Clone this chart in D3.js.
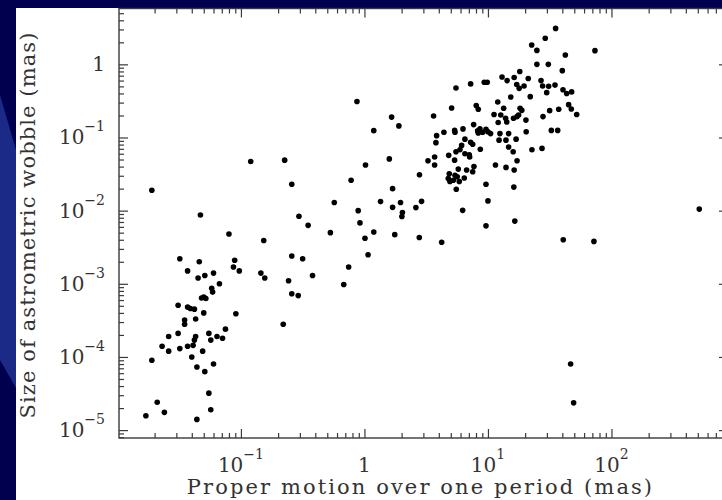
<!DOCTYPE html>
<html>
<head>
<meta charset="utf-8">
<script src="https://cdn.jsdelivr.net/npm/d3@7"></script>
<style>
  html, body { margin: 0; padding: 0; background: #00004e; overflow: hidden; }
  svg { display: block; }
  .tick line, .domain { stroke: #3a3a3a; stroke-width: 1.2; }
  text { font-family: "DejaVu Serif", "Liberation Serif", serif; fill: #333333; }
</style>
</head>
<body>
<div id="chart"></div>
<script>
// proper motion over one period (mas)
let properMotion = [
  0.019, 0.047, 0.080, 0.153, 0.258, 0.032, 0.046, 0.089, 0.087, 0.097,
  0.037, 0.060, 0.045, 0.051, 0.145, 0.156, 0.258, 0.243, 0.067, 0.058,
  0.059, 0.048, 0.050, 0.052, 0.258, 0.291, 0.031, 0.037, 0.039, 0.042,
  0.050, 0.091, 0.035, 0.035, 0.043, 0.220, 0.075, 0.031, 0.026, 0.055,
  0.064, 0.057, 0.071, 0.043, 0.042, 0.023, 0.026, 0.032, 0.037, 0.041,
  0.049, 0.040, 0.019, 0.044, 0.051, 0.060, 0.055, 0.021, 0.057, 0.024,
  0.017, 0.044, 0.295,
  0.87, 1.66, 1.90, 1.19, 0.226, 1.59, 1.02, 2.79, 0.78, 1.69,
  0.57, 1.35, 1.96, 1.69, 2.61, 2.03, 2.01, 0.89, 0.35, 0.92,
  0.53, 1.19, 1.76, 1.01, 2.78, 1.07, 0.316, 0.745, 0.38, 0.68, 0.120,
  35.3, 29.1, 22.6, 24.9, 42.3, 24.9, 30.8, 40.0, 18.1, 13.0,
  14.3, 16.3, 21.2, 9.33, 9.87, 7.24, 5.51, 17.1, 17.9, 19.6,
  26.9, 27.7, 31.0, 34.9, 40.5, 43.4, 47.6, 29.9, 15.3, 22.0,
  12.0, 45.0, 47.3, 52.3, 8.04, 8.35, 5.08, 13.4, 18.2, 18.8,
  31.6, 37.4, 3.63, 11.2, 12.7, 13.9, 14.2, 12.1, 16.1, 17.2,
  17.7, 20.3, 27.9, 7.66, 3.84, 4.40, 5.37, 5.41, 6.28, 8.26,
  8.61, 9.06, 9.64, 10.0, 10.5, 8.35, 12.5, 14.7, 20.4, 32.6,
  36.7, 3.79, 6.51, 6.12, 7.24, 7.52, 12.3, 14.0, 16.9, 5.51,
  5.93, 6.51, 7.06, 7.11, 8.67, 14.7, 16.0, 22.7, 27.4, 3.70,
  3.70, 4.81, 3.27, 5.37, 17.2, 7.70, 6.72, 7.52, 5.75, 11.5,
  14.0, 16.3, 4.86, 5.41, 4.77, 4.92, 5.24, 5.64, 5.86, 6.43,
  5.54, 9.64, 16.2, 10.0, 2.90, 6.24, 9.64, 16.5, 4.22, 40.7,
  73.5, 514, 72.1, 46.7, 49.4
];

// size of astrometric wobble (mas)
let wobbleSize = [
  0.019, 0.0087, 0.0048, 0.0039, 0.023, 0.0022, 0.0020, 0.0021, 0.0017, 0.0015,
  0.0015, 0.0014, 0.0012, 0.0013, 0.0014, 0.0012, 0.0024, 0.0011, 0.0010, 0.00087,
  0.00077, 0.00064, 0.00066, 0.00063, 0.00073, 0.00069, 0.00051, 0.00048, 0.00046, 0.00045,
  0.00040, 0.00039, 0.00032, 0.00028, 0.00033, 0.00028, 0.00024, 0.00021, 0.00019, 0.00021,
  0.00019, 0.00017, 0.00018, 0.00019, 0.00017, 0.00014, 0.00012, 0.00013, 0.00014, 0.000144,
  0.00012, 0.00010, 0.000090, 0.000073, 0.000063, 0.000080, 0.000032, 0.000024, 0.000019, 0.0000175,
  0.0000157, 0.000014, 0.0084,
  0.31, 0.19, 0.144, 0.124, 0.049, 0.051, 0.042, 0.031, 0.026, 0.020,
  0.0129, 0.0133, 0.0129, 0.0111, 0.0110, 0.0094, 0.0083, 0.0100, 0.0063, 0.0068,
  0.0050, 0.0051, 0.0047, 0.0042, 0.0043, 0.0025, 0.0022, 0.0017, 0.0013, 0.00098, 0.047,
  3.10, 2.27, 1.84, 1.55, 1.34, 1.00, 1.00, 0.82, 0.80, 0.67,
  0.60, 0.66, 0.64, 0.57, 0.57, 0.54, 0.475, 0.53, 0.47, 0.505,
  0.60, 0.505, 0.50, 0.52, 0.45, 0.40, 0.42, 0.41, 0.357, 0.362,
  0.305, 0.281, 0.245, 0.206, 0.273, 0.243, 0.253, 0.251, 0.251, 0.235,
  0.233, 0.243, 0.197, 0.206, 0.203, 0.183, 0.163, 0.160, 0.183, 0.193,
  0.203, 0.173, 0.193, 0.150, 0.106, 0.118, 0.125, 0.118, 0.131, 0.123,
  0.131, 0.118, 0.129, 0.120, 0.113, 0.115, 0.113, 0.113, 0.120, 0.125,
  0.125, 0.085, 0.095, 0.078, 0.086, 0.081, 0.092, 0.092, 0.095, 0.064,
  0.068, 0.060, 0.058, 0.054, 0.069, 0.074, 0.064, 0.068, 0.071, 0.054,
  0.042, 0.057, 0.048, 0.049, 0.048, 0.040, 0.036, 0.034, 0.037, 0.042,
  0.039, 0.036, 0.032, 0.0305, 0.0275, 0.025, 0.026, 0.029, 0.025, 0.028,
  0.0196, 0.023, 0.021, 0.0136, 0.0134, 0.0101, 0.0062, 0.0072, 0.0037, 0.0040,
  1.54, 0.0105, 0.0038, 0.000080, 0.0000236
];

let xTickValues = [0.1, 1, 10, 100];
let xTickLabels = [["10", "−1"], ["1", ""], ["10", "1"], ["10", "2"]];
let yTickValues = [1, 0.1, 0.01, 0.001, 0.0001, 0.00001];
let yTickLabels = [["1", ""], ["10", "−1"], ["10", "−2"], ["10", "−3"], ["10", "−4"], ["10", "−5"]];

let svgWidth = 722;
let svgHeight = 500;

// plot frame (right edge runs a little past the window)
let frame = { left: 119, right: 728, top: 8.5, bottom: 438 };

let svg = d3.select("#chart")
  .append("svg")
  .attr("width", svgWidth)
  .attr("height", svgHeight);

// dark slide background with a lighter swoosh on the left strip
svg.append("rect")
  .attr("width", svgWidth)
  .attr("height", svgHeight)
  .attr("fill", "#00004e");
svg.append("polygon")
  .attr("points", "0,95 16,150 16,388 0,360")
  .attr("fill", "#1b2a86");

// white panel holding the figure
svg.append("rect")
  .attr("x", 16)
  .attr("y", 8)
  .attr("width", svgWidth - 16)
  .attr("height", svgHeight - 8)
  .attr("fill", "#ffffff");

let x = d3.scaleLog()
  .domain([0.0103, 878])
  .range([frame.left, frame.right]);

let y = d3.scaleLog()
  .domain([7.8e-6, 5.8])
  .range([frame.bottom, frame.top]);

let xMinor = x.ticks().filter(d => !xTickValues.some(t => Math.abs(t / d - 1) < 1e-6));
let yMinor = y.ticks().filter(d => !yTickValues.some(t => Math.abs(t / d - 1) < 1e-6));

// inward ticks on all four sides
function addAxis(axisFn, scale, values, size, transform) {
  let g = svg.append("g")
    .attr("transform", transform)
    .call(axisFn(scale).tickValues(values).tickSize(-size).tickSizeOuter(0).tickFormat(""));
  g.select(".domain").remove();
  return g;
}

addAxis(d3.axisBottom, x, xMinor, 5, `translate(0, ${frame.bottom})`);
addAxis(d3.axisBottom, x, xTickValues, 9, `translate(0, ${frame.bottom})`);
addAxis(d3.axisTop, x, xMinor, 5, `translate(0, ${frame.top})`);
addAxis(d3.axisTop, x, xTickValues, 9, `translate(0, ${frame.top})`);
addAxis(d3.axisLeft, y, yMinor, 5, `translate(${frame.left}, 0)`);
addAxis(d3.axisLeft, y, yTickValues, 9, `translate(${frame.left}, 0)`);
addAxis(d3.axisRight, y, yMinor, 5, `translate(${frame.right}, 0)`);
addAxis(d3.axisRight, y, yTickValues, 9, `translate(${frame.right}, 0)`);

svg.append("rect")
  .attr("x", frame.left)
  .attr("y", frame.top)
  .attr("width", frame.right - frame.left)
  .attr("height", frame.bottom - frame.top)
  .attr("fill", "none")
  .attr("stroke", "#3a3a3a")
  .attr("stroke-width", 1.4);

// tick labels with superscript exponents
function writeLabel(g, parts) {
  g.append("tspan").text(parts[0]);
  if (parts[1]) {
    g.append("tspan")
      .attr("dy", -13)
      .attr("font-size", "14px")
      .text(parts[1]);
  }
}

xTickValues.forEach(function(v, i) {
  let t = svg.append("text")
    .attr("x", x(v))
    .attr("y", 472)
    .attr("text-anchor", "middle")
    .attr("font-size", "20px");
  writeLabel(t, xTickLabels[i]);
});

yTickValues.forEach(function(v, i) {
  let t = svg.append("text")
    .attr("x", 105)
    .attr("y", y(v) + 7)
    .attr("text-anchor", "end")
    .attr("font-size", "20px");
  writeLabel(t, yTickLabels[i]);
});

// axis titles (the original face is wider, so open the letters up a bit)
svg.append("text")
  .attr("x", (186 + 655) / 2)
  .attr("y", 494)
  .attr("text-anchor", "middle")
  .attr("font-size", "21px")
  .attr("letter-spacing", "2.1px")
  .text("Proper motion over one period (mas)");

svg.append("text")
  .attr("transform", "translate(35, 225) rotate(-90)")
  .attr("text-anchor", "middle")
  .attr("font-size", "21px")
  .attr("letter-spacing", "1.1px")
  .text("Size of astrometric wobble (mas)");

// points
let points = properMotion.map((d, i) => ({ pm: d, wobble: wobbleSize[i] }));

svg.append("g")
  .selectAll("circle")
  .data(points)
  .enter()
  .append("circle")
  .attr("cx", d => x(d.pm))
  .attr("cy", d => y(d.wobble))
  .attr("r", 2.8)
  .attr("fill", "#000000");
</script>
</body>
</html>
